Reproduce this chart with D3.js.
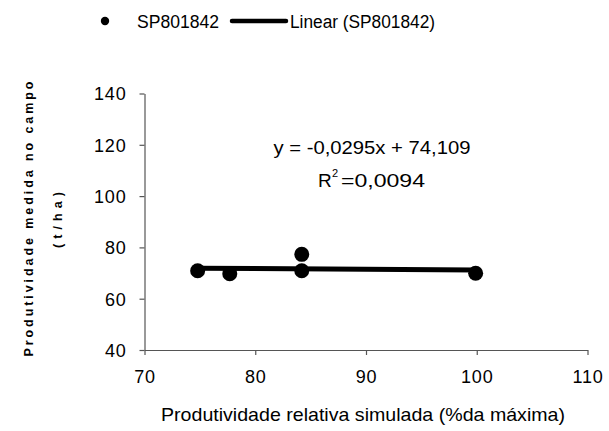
<!DOCTYPE html>
<html><head><meta charset="utf-8">
<script src="https://cdn.jsdelivr.net/npm/d3@7"></script>
<style>body{margin:0;background:#fff}svg{display:block}text{font-family:"Liberation Sans",Arial,sans-serif;fill:#000}</style>
</head><body><div id="chart"></div>
<script>
const seriesName = "SP801842";
const xValues = [74.8, 77.7, 84.2, 84.2, 99.9];
const yValues = [70.9, 69.7, 77.3, 70.9, 69.9];
const slope = -0.0295, intercept = 74.109;
const xTicks = [70, 80, 90, 100, 110];
const yTicks = [40, 60, 80, 100, 120, 140];
const equationText = "y = -0,0295x + 74,109";
const r2Text = "=0,0094";

const W = 609, H = 431;
const svg = d3.select("#chart").append("svg").attr("width", W).attr("height", H);
const x = d3.scaleLinear().domain([70, 110]).range([144.5, 587.5]);
const y = d3.scaleLinear().domain([40, 140]).range([350, 93.5]);

const xAxis = svg.append("g").attr("transform", `translate(0,${y(40)})`)
  .call(d3.axisBottom(x).tickValues(xTicks).tickSize(5).tickSizeOuter(0).tickPadding(12));
const yAxis = svg.append("g").attr("transform", `translate(${x(70)},0)`)
  .call(d3.axisLeft(y).tickValues(yTicks).tickSize(5).tickSizeOuter(0).tickPadding(13));
[xAxis, yAxis].forEach(g => {
  g.select(".domain").attr("stroke", "#555").attr("stroke-width", 1.2);
  g.selectAll(".tick line").attr("stroke", "#555").attr("stroke-width", 1.2);
  g.selectAll(".tick text").attr("font-size", 18).attr("font-family", "Liberation Sans, Arial, sans-serif").attr("fill", "#000").attr("letter-spacing", 0.8);
});
xAxis.selectAll(".tick text").attr("dy", "0.9em");
yAxis.selectAll(".tick text").attr("dy", "0.35em");

// trend line
const xmin = d3.min(xValues), xmax = d3.max(xValues);
svg.append("line")
  .attr("x1", x(xmin)).attr("x2", x(xmax))
  .attr("y1", y(slope * xmin + intercept)).attr("y2", y(slope * xmax + intercept))
  .attr("stroke", "#000").attr("stroke-width", 5);

// points
svg.selectAll("circle.pt").data(xValues.map((v, i) => [v, yValues[i]])).enter()
  .append("circle").attr("class", "pt")
  .attr("cx", d => x(d[0])).attr("cy", d => y(d[1])).attr("r", 7.5).attr("fill", "#000");

// equation
svg.append("text").attr("x", 372).attr("y", 154).attr("text-anchor", "middle")
  .attr("font-size", 19).attr("textLength", 197).attr("lengthAdjust", "spacingAndGlyphs").text(equationText);
svg.append("text").attr("x", 318).attr("y", 187).attr("font-size", 19).text("R");
svg.append("text").attr("x", 332).attr("y", 177).attr("font-size", 11).text("2");
svg.append("text").attr("x", 341).attr("y", 187).attr("font-size", 19).attr("textLength", 84).attr("lengthAdjust", "spacingAndGlyphs").text(r2Text);

// axis titles
svg.append("text").attr("x", 363).attr("y", 421).attr("text-anchor", "middle")
  .attr("font-size", 18.5).attr("textLength", 404).attr("lengthAdjust", "spacingAndGlyphs")
  .text("Produtividade relativa simulada (%da máxima)");
svg.append("text").attr("transform", "translate(33,219) rotate(-90)").attr("text-anchor", "middle")
  .attr("font-size", 12.5).attr("font-weight", "bold").attr("textLength", 275).attr("lengthAdjust", "spacing")
  .text("Produtividade medida no campo");
svg.append("text").attr("transform", "translate(62,220) rotate(-90)").attr("text-anchor", "middle")
  .attr("font-size", 12.5).attr("font-weight", "bold").attr("textLength", 56).attr("lengthAdjust", "spacing")
  .text("(t/ha)");

// legend
const lg = svg.append("g");
lg.append("circle").attr("cx", 105).attr("cy", 21).attr("r", 4.2).attr("fill", "#000");
lg.append("text").attr("x", 137).attr("y", 27.5).attr("font-size", 18).attr("textLength", 82).attr("lengthAdjust", "spacingAndGlyphs").text(seriesName);
lg.append("line").attr("x1", 232).attr("x2", 286).attr("y1", 21).attr("y2", 21).attr("stroke", "#000").attr("stroke-width", 4.5).attr("stroke-linecap", "round");
lg.append("text").attr("x", 290).attr("y", 27.5).attr("font-size", 18).attr("textLength", 145).attr("lengthAdjust", "spacingAndGlyphs").text("Linear (" + seriesName + ")");
</script></body></html>
